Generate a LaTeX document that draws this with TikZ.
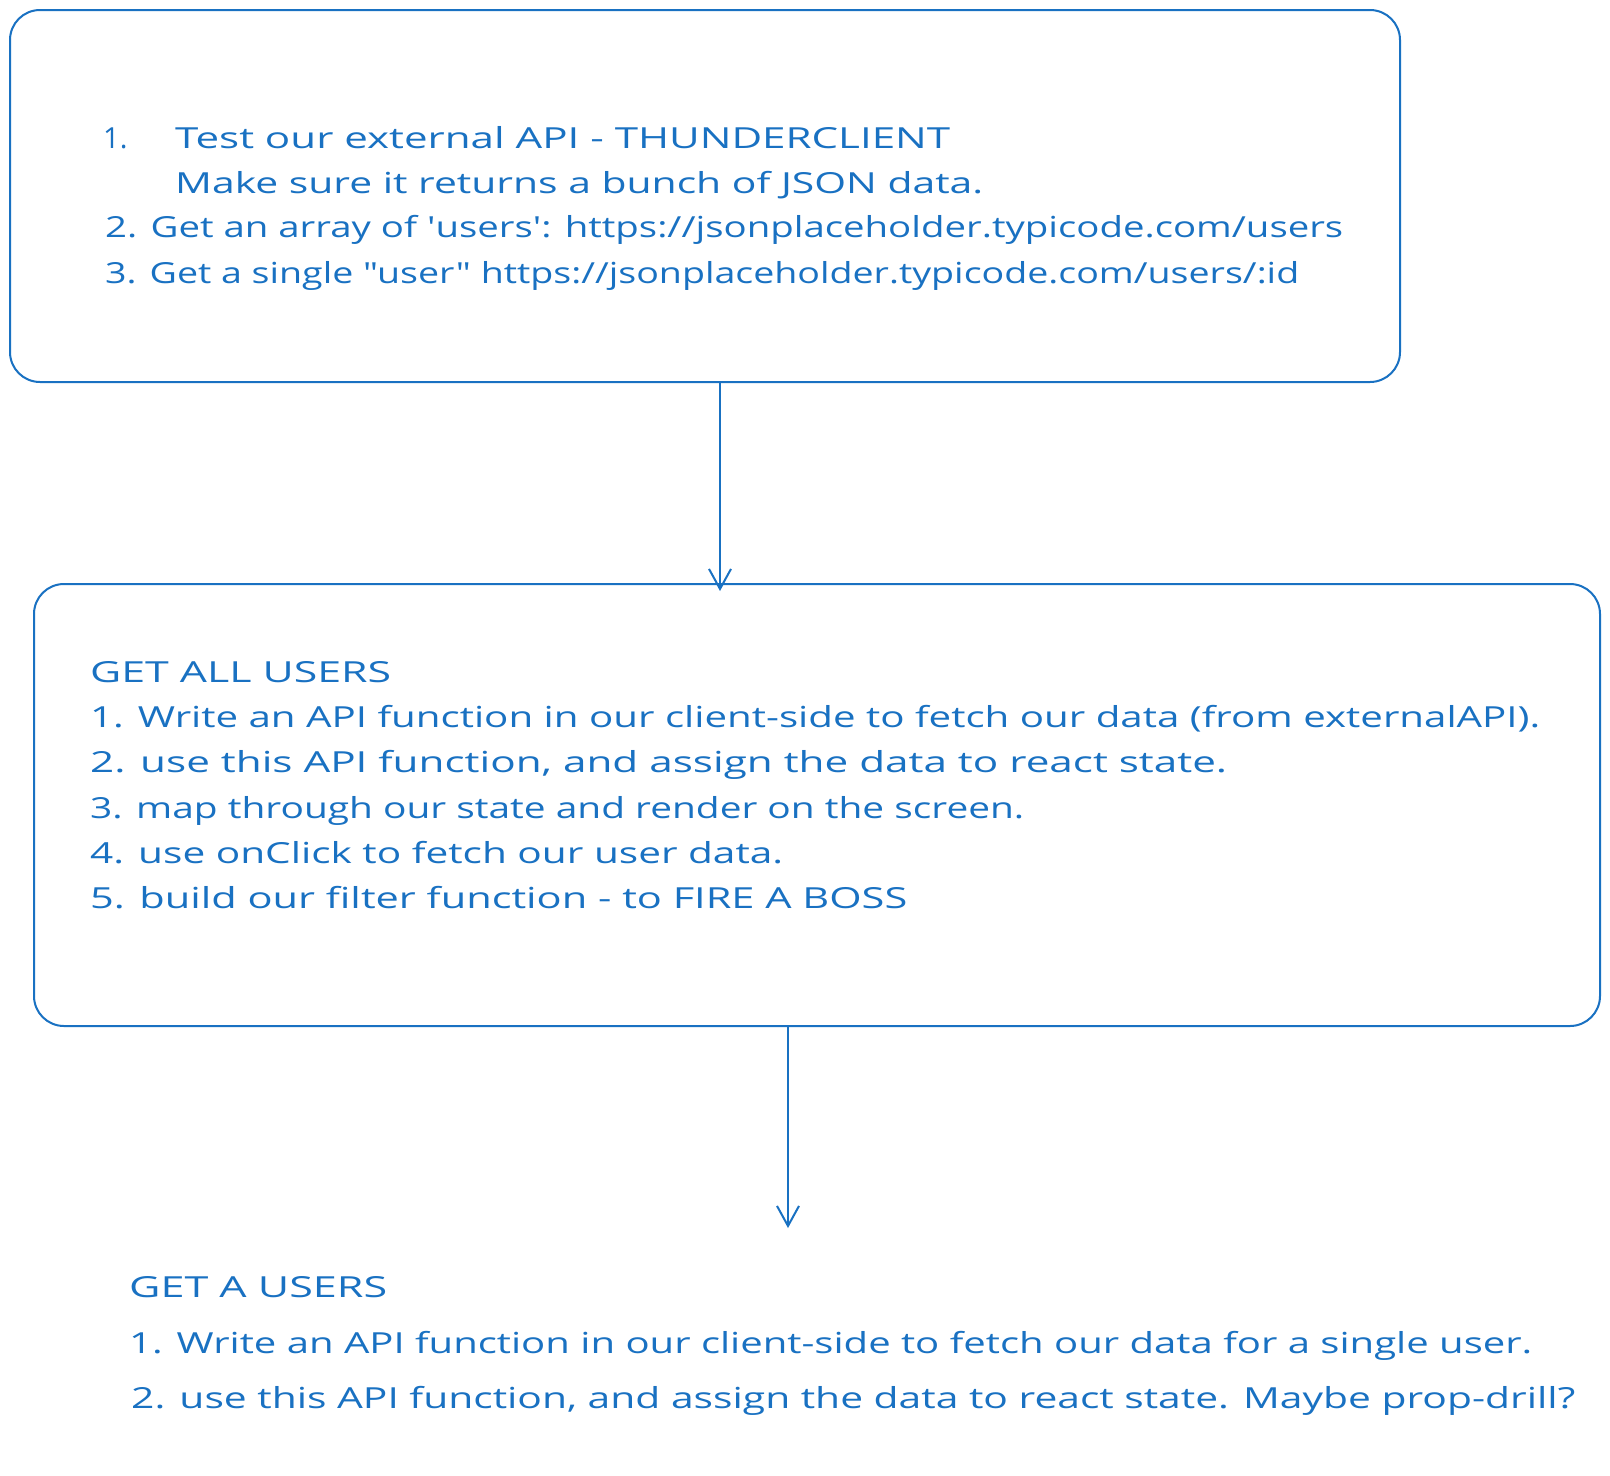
\documentclass[tikz,border=0pt]{standalone}
\usepackage{fontspec}
\usepackage{graphicx}
\usetikzlibrary{arrows.meta,calc}
\newfontfamily\hand{Open Sans}
\definecolor{inkblue}{RGB}{25,113,194}
\newcommand\fitline[2]{\resizebox{#1pt}{\height}{#2}}
\tikzset{
  box/.style={draw=inkblue, line width=2pt, rounded corners=30pt, inner sep=0pt},
  txt/.style={anchor=base west, inner sep=0pt, text=inkblue, font=\hand\fontsize{29pt}{29pt}\selectfont},
  conn/.style={draw=inkblue, line width=2pt, line cap=round, -{Straight Barb[length=20pt,width=22pt,line width=2pt]}}
}
\begin{document}
\begin{tikzpicture}[x=1pt,y=-1pt]
\fill[white] (0,0) rectangle (1610,1476);
\useasboundingbox (0,0) rectangle (1610,1476);

% boxes
\node[box, minimum width=1390pt, minimum height=372pt] (b1) at (705,196) {};
\node[box, minimum width=1566pt, minimum height=442pt] (b2) at (817,805) {};

% box 1 text
\node[txt] (t1n) at (103,148) {1.};
\node[txt] (t1a) at (175,148) {\fitline{775}{Test our external API - THUNDERCLIENT}};
\node[txt] (t1b) at (175,193) {\fitline{808}{Make sure it returns a bunch of JSON data.}};
\node[txt] (t1c) at (105,237) {\fitline{1238}{2. Get an array of \textquotesingle users\textquotesingle: https://jsonplaceholder.typicode.com/users}};
\node[txt] (t1d) at (105,283) {\fitline{1194}{3. Get a single "user" https://jsonplaceholder.typicode.com/users/:id}};

% box 2 text
\node[txt] (t2h) at (90,682) {\fitline{301}{GET ALL USERS}};
\node[txt] (t2a) at (90,727) {\fitline{1450}{1. Write an API function in our client-side to fetch our data (from externalAPI).}};
\node[txt] (t2b) at (90,772) {\fitline{1137}{2. use this API function, and assign the data to react state.}};
\node[txt] (t2c) at (90,818) {\fitline{934}{3. map through our state and render on the screen.}};
\node[txt] (t2d) at (90,863) {\fitline{693}{4. use onClick to fetch our user data.}};
\node[txt] (t2e) at (90,908) {\fitline{817}{5. build our filter function - to FIRE A BOSS}};

% bottom text
\node[txt] (t3h) at (129,1297) {\fitline{258}{GET A USERS}};
\node[txt] (t3a) at (129,1353) {\fitline{1403}{1. Write an API function in our client-side to fetch our data for a single user.}};
\node[txt] (t3b) at (131,1408) {\fitline{1444}{2. use this API function, and assign the data to react state. Maybe prop-drill?}};

% connectors
\coordinate (a2end) at (788,1228);
\draw[conn] ([xshift=15pt]b1.south) -- ([xshift=15pt,yshift=-8pt]b1.south |- b2.north);
\draw[conn] (b2.south -| a2end) -- (a2end);
\end{tikzpicture}
\end{document}
